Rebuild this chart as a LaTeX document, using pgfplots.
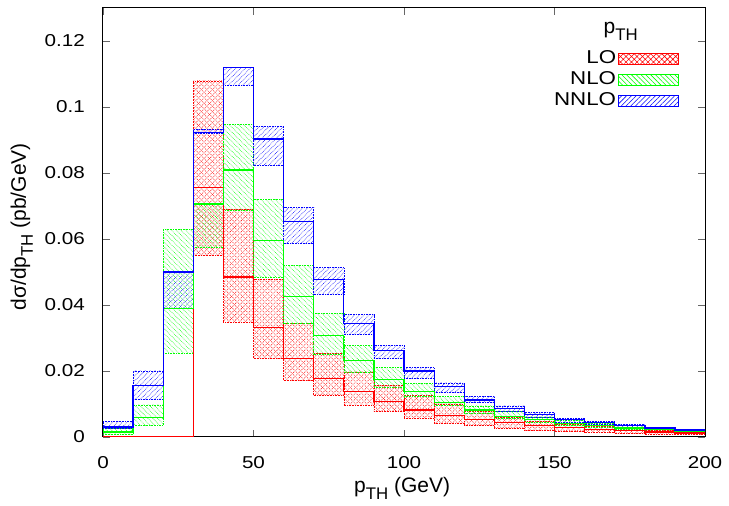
\documentclass[border=0pt]{standalone}
\usepackage{fontspec}
\setmainfont{Liberation Sans}
\newfontfamily\wide{Liberation Sans}[FakeStretch=1.2]
\usepackage{graphicx}
\usepackage{pgfplots}
\pgfplotsset{compat=1.18}
\usepackage{pgfplotstable}
\usetikzlibrary{patterns.meta}
\newcommand\sub[1]{\raisebox{-0.33em}{\scalebox{0.8}{#1}}}

% central values of each bin (bin lower edge x; last row closes the histogram at 200)
\pgfplotstableread{
x mid
0 0
10 0
20 0
30 0.0757
40 0.0485
50 0.0331
60 0.0238
70 0.0177
80 0.0137
90 0.0107
100 0.0082
110 0.0066
120 0.0054
130 0.0043
140 0.0034
150 0.0028
160 0.0023
170 0.0019
180 0.0015
190 0.0012
200 0.0012
}\tabLO
\pgfplotstableread{
x mid
0 0.0015
10 0.0060
20 0.0390
30 0.0706
40 0.0809
50 0.0595
60 0.0426
70 0.0307
80 0.0231
90 0.0174
100 0.0137
110 0.0104
120 0.0082
130 0.0063
140 0.0053
150 0.0042
160 0.0034
170 0.0027
180 0.0022
190 0.0018
200 0.0018
}\tabNLO
\pgfplotstableread{
x mid
0 0.0030
10 0.0155
20 0.0500
30 0.0923
40 0.1120
50 0.0903
60 0.0653
70 0.0477
80 0.0344
90 0.0261
100 0.0200
110 0.0152
120 0.0112
130 0.0087
140 0.0068
150 0.0053
160 0.0044
170 0.0035
180 0.0027
190 0.0021
200 0.0021
}\tabNNLO

\tikzset{
  patLO/.style={pattern={Hatch[angle=45,distance=3.9pt,line width=0.55pt]}, pattern color=red},
  patNLO/.style={pattern={Lines[angle=-45,distance=3.4pt,line width=0.55pt]}, pattern color=green},
  patNNLO/.style={pattern={Lines[angle=45,distance=3.4pt,line width=0.55pt]}, pattern color=blue},
}
\pgfplotsset{
  bandLO/.style={forget plot, patLO, draw=red, densely dotted, line width=0.6pt},
  bandNLO/.style={forget plot, patNLO, draw=green, densely dotted, line width=0.6pt},
  bandNNLO/.style={forget plot, patNNLO, draw=blue, densely dotted, line width=0.6pt},
  central/.style={const plot, line width=1.2pt, forget plot},
}
% band of one bin: style, x from, x to, low, high
\newcommand\band[5]{\addplot[#1] coordinates {(#2,#4) (#3,#4) (#3,#5) (#2,#5) (#2,#4)};}

\begin{document}
\fontsize{21}{25}\selectfont
\begin{tikzpicture}
\begin{axis}[
  at={(103pt,69pt)}, anchor=south west,
  scale only axis, width=602pt, height=429pt,
  xmin=0, xmax=200, ymin=0, ymax=0.13,
  xtick={0,50,100,150,200},
  ytick={0,0.02,0.04,0.06,0.08,0.1,0.12},
  scaled y ticks=false,
  yticklabel style={/pgf/number format/fixed,/pgf/number format/precision=2, xshift=-11pt},
  xticklabel style={yshift=-12pt},
  /pgf/number format/assume math mode=true,
  tick style={black!60, line width=0.9pt},
  major tick length=7pt,
  axis line style={line width=1pt},
  every tick label/.append style={font=\wide\fontsize{17.2}{20}\selectfont},
  label style={font=\fontsize{21}{25}\selectfont},
  xlabel={p\sub{TH} (GeV)},
  ylabel={dσ/dp\sub{TH} (pb/GeV)},
  xlabel style={at={(axis description cs:0.497,-0.120)}, anchor=center},
  ylabel style={at={(axis description cs:-0.135,0.49)}, anchor=center},
  legend cell align=right,
  legend plot pos=right,
  legend style={draw=none, fill=none, at={(axis description cs:0.957,0.907)}, anchor=north east,
    font=\wide\fontsize{18.6}{22}\selectfont, row sep=0pt, inner sep=0pt,
    nodes={inner sep=2pt, text height=13.3pt, text depth=3.9pt}},
]
% ---- LO bands
\band{bandLO}{30}{40}{0.0550}{0.1079}
\band{bandLO}{40}{50}{0.0349}{0.0690}
\band{bandLO}{50}{60}{0.0238}{0.0478}
\band{bandLO}{60}{70}{0.0172}{0.0344}
\band{bandLO}{70}{80}{0.0127}{0.0253}
\band{bandLO}{80}{90}{0.0097}{0.0197}
\band{bandLO}{90}{100}{0.0077}{0.0157}
\band{bandLO}{100}{110}{0.0057}{0.0127}
\band{bandLO}{110}{120}{0.0041}{0.0100}
\band{bandLO}{120}{130}{0.0036}{0.0077}
\band{bandLO}{130}{140}{0.0026}{0.0060}
\band{bandLO}{140}{150}{0.0021}{0.0047}
\band{bandLO}{150}{160}{0.0017}{0.0039}
\band{bandLO}{160}{170}{0.0014}{0.0032}
\band{bandLO}{170}{180}{0.0011}{0.0026}
\band{bandLO}{180}{190}{0.0009}{0.0021}
\band{bandLO}{190}{200}{0.0007}{0.0017}
% ---- NLO bands
\band{bandNLO}{0}{10}{0.0008}{0.0026}
\band{bandNLO}{10}{20}{0.0036}{0.0097}
\band{bandNLO}{20}{30}{0.0255}{0.0628}
\band{bandNLO}{30}{40}{0.0575}{0.0706}
\band{bandNLO}{40}{50}{0.0686}{0.0948}
\band{bandNLO}{50}{60}{0.0485}{0.0721}
\band{bandNLO}{60}{70}{0.0344}{0.0520}
\band{bandNLO}{70}{80}{0.0251}{0.0374}
\band{bandNLO}{80}{90}{0.0197}{0.0278}
\band{bandNLO}{90}{100}{0.0152}{0.0210}
\band{bandNLO}{100}{110}{0.0122}{0.0162}
\band{bandNLO}{110}{120}{0.0097}{0.0124}
\band{bandNLO}{120}{130}{0.0072}{0.0094}
\band{bandNLO}{130}{140}{0.0057}{0.0077}
\band{bandNLO}{140}{150}{0.0045}{0.0061}
\band{bandNLO}{150}{160}{0.0036}{0.0051}
\band{bandNLO}{160}{170}{0.0029}{0.0042}
\band{bandNLO}{170}{180}{0.0023}{0.0034}
\band{bandNLO}{180}{190}{0.0018}{0.0027}
\band{bandNLO}{190}{200}{0.0014}{0.0022}
% ---- NNLO bands
\band{bandNNLO}{0}{10}{0.0026}{0.0048}
\band{bandNNLO}{10}{20}{0.0114}{0.0200}
\band{bandNNLO}{20}{30}{0.0389}{0.0502}
\band{bandNNLO}{30}{40}{0.0921}{0.0932}
\band{bandNNLO}{40}{50}{0.1066}{0.1121}
\band{bandNNLO}{50}{60}{0.0824}{0.0941}
\band{bandNNLO}{60}{70}{0.0587}{0.0696}
\band{bandNNLO}{70}{80}{0.0431}{0.0513}
\band{bandNNLO}{80}{90}{0.0311}{0.0371}
\band{bandNNLO}{90}{100}{0.0238}{0.0278}
\band{bandNNLO}{100}{110}{0.0177}{0.0210}
\band{bandNNLO}{110}{120}{0.0134}{0.0164}
\band{bandNNLO}{120}{130}{0.0104}{0.0122}
\band{bandNNLO}{130}{140}{0.0077}{0.0094}
\band{bandNNLO}{140}{150}{0.0060}{0.0074}
\band{bandNNLO}{150}{160}{0.0046}{0.0057}
\band{bandNNLO}{160}{170}{0.0038}{0.0048}
\band{bandNNLO}{170}{180}{0.0030}{0.0038}
\band{bandNNLO}{180}{190}{0.0023}{0.0029}
\band{bandNNLO}{190}{200}{0.0018}{0.0023}
% ---- central histograms
\addplot[central, red] table[x=x,y=mid]{\tabLO};
\addplot[central, green] table[x=x,y=mid]{\tabNLO};
\addplot[central, blue] table[x=x,y=mid]{\tabNNLO};
% ---- legend
\addlegendimage{legend image code/.code={\draw[patLO, draw=red, line width=0.8pt] (19pt,-5.5pt) rectangle (79pt,5.5pt);}}
\addlegendentry{LO}
\addlegendimage{legend image code/.code={\draw[patNLO, draw=green, line width=0.8pt] (19pt,-5.5pt) rectangle (79pt,5.5pt);}}
\addlegendentry{NLO}
\addlegendimage{legend image code/.code={\draw[patNNLO, draw=blue, line width=0.8pt] (19pt,-5.5pt) rectangle (79pt,5.5pt);}}
\addlegendentry{NNLO}
\node[anchor=base, font=\fontsize{21}{25}\selectfont] at (axis description cs:0.860,0.941) {p\sub{TH}};
\end{axis}
\pgfresetboundingbox
\useasboundingbox (0,0) rectangle (729pt,506pt);
\end{tikzpicture}
\end{document}
